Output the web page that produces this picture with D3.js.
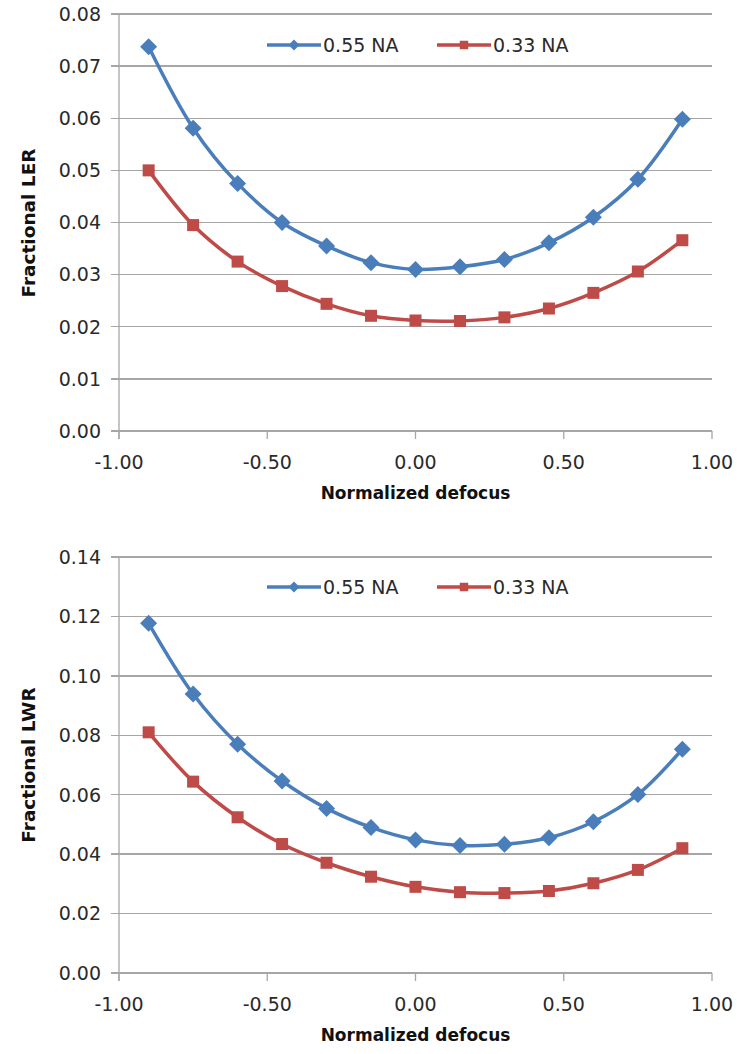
<!DOCTYPE html>
<html><head><meta charset="utf-8">
<script src="https://cdn.jsdelivr.net/npm/d3@7"></script>
<style>body{margin:0;background:#fff}svg{display:block}</style>
</head><body><svg id="c" width="737" height="1054"></svg>
<script>
// ---- data ----
const defocus = [-0.9,-0.75,-0.6,-0.45,-0.3,-0.15,0,0.15,0.3,0.45,0.6,0.75,0.9];
const xTicks = [-1,-0.5,0,0.5,1];
const seriesNames = ["0.55 NA","0.33 NA"];
const ler055 = [0.0737,0.0581,0.0475,0.0400,0.0355,0.0323,0.0310,0.0315,0.0329,0.0361,0.0410,0.0483,0.0598];
const ler033 = [0.0500,0.0395,0.0325,0.0278,0.0244,0.0221,0.0212,0.0211,0.0218,0.0235,0.0265,0.0306,0.0366];
const lwr055 = [0.1177,0.0939,0.0770,0.0646,0.0554,0.0490,0.0448,0.0429,0.0433,0.0455,0.0509,0.0601,0.0753];
const lwr033 = [0.0810,0.0644,0.0524,0.0434,0.0371,0.0324,0.0290,0.0272,0.0269,0.0276,0.0302,0.0347,0.0420];
const lerTicks = [0,0.01,0.02,0.03,0.04,0.05,0.06,0.07,0.08];
const lwrTicks = [0,0.02,0.04,0.06,0.08,0.10,0.12,0.14];
const yTitles = ["Fractional LER","Fractional LWR"];
const xTitle = "Normalized defocus";

// ---- styling / layout ----
const colors = ["#4A7EBB","#BE4B48"];
const gridColor = "#a6a6a6";
const font = "'DejaVu Sans', sans-serif";
const fmt = d => d3.format(".2f")(d).replace("\u2212","-");
const svg = d3.select("#c");
const x = d3.scaleLinear().domain([-1,1]).range([119,712]);

const panels = [
  {yTop:14, yBot:431, max:0.08, ticks:lerTicks, title:yTitles[0], series:[ler055,ler033], legendY:45, titleCY:223},
  {yTop:557, yBot:973, max:0.14, ticks:lwrTicks, title:yTitles[1], series:[lwr055,lwr033], legendY:587, titleCY:765}
];

function marker(g, i, cx, cy, big){
  if(i===0){
    const r = big?8.5:5.5;
    g.append("path").attr("d",`M${cx},${cy-r}L${cx+r},${cy}L${cx},${cy+r}L${cx-r},${cy}Z`).attr("fill",colors[0]);
  } else {
    const s = big?12:8.5;
    g.append("rect").attr("x",cx-s/2).attr("y",cy-s/2).attr("width",s).attr("height",s).attr("fill",colors[1]);
  }
}

panels.forEach(p=>{
  const y = d3.scaleLinear().domain([0,p.max]).range([p.yBot,p.yTop]);
  const g = svg.append("g");
  // gridlines
  g.append("g").selectAll("line").data(p.ticks).join("line")
    .attr("x1",x(-1)-8).attr("x2",x(1)).attr("y1",d=>y(d)).attr("y2",d=>y(d))
    .attr("stroke",gridColor).attr("stroke-width",1.3).attr("shape-rendering","crispEdges");
  // y axis line
  g.append("line").attr("x1",x(-1)).attr("x2",x(-1)).attr("y1",y(p.max)).attr("y2",y(0)+8)
    .attr("stroke",gridColor).attr("stroke-width",1.3);
  // x ticks
  g.append("g").selectAll("line").data(xTicks).join("line")
    .attr("x1",d=>x(d)).attr("x2",d=>x(d)).attr("y1",y(0)).attr("y2",y(0)+8)
    .attr("stroke",gridColor).attr("stroke-width",1.3);
  // y tick labels
  g.append("g").selectAll("text").data(p.ticks).join("text")
    .attr("x",101).attr("y",d=>y(d)).attr("dy","0.36em").attr("text-anchor","end")
    .attr("font-family",font).attr("font-size",19).attr("fill","#2a2a2a")
    .text(fmt);
  // x tick labels
  g.append("g").selectAll("text").data(xTicks).join("text")
    .attr("x",d=>x(d)).attr("y",y(0)+31).attr("dy","0.36em").attr("text-anchor","middle")
    .attr("font-family",font).attr("font-size",19).attr("fill","#2a2a2a")
    .text(fmt);
  // x title
  g.append("text").attr("x",x(0)).attr("y",y(0)+62).attr("dy","0.36em").attr("text-anchor","middle")
    .attr("font-family",font).attr("font-weight","bold").attr("font-size",17).attr("fill","#111")
    .text(xTitle);
  // y title
  g.append("text").attr("transform",`translate(28,${p.titleCY}) rotate(-90)`).attr("dy","0.36em")
    .attr("text-anchor","middle").attr("font-family",font).attr("font-weight","bold")
    .attr("font-size",18.5).attr("fill","#111").text(p.title);
  // series
  const line = d3.line().x((d,i)=>x(defocus[i])).y(d=>y(d)).curve(d3.curveCatmullRom.alpha(0.5));
  p.series.forEach((vals,si)=>{
    g.append("path").datum(vals).attr("d",line).attr("fill","none")
      .attr("stroke",colors[si]).attr("stroke-width",3.5);
    const mg = g.append("g");
    vals.forEach((v,i)=>marker(mg,si,x(defocus[i]),y(v),true));
  });
  // legend
  const lx = [267,437];
  seriesNames.forEach((n,si)=>{
    const lg = g.append("g");
    lg.append("line").attr("x1",lx[si]).attr("x2",lx[si]+54).attr("y1",p.legendY).attr("y2",p.legendY)
      .attr("stroke",colors[si]).attr("stroke-width",3.5);
    marker(lg,si,lx[si]+27,p.legendY,false);
    lg.append("text").attr("x",lx[si]+56).attr("y",p.legendY).attr("dy","0.36em")
      .attr("font-family",font).attr("font-size",19).attr("fill","#2a2a2a").text(n);
  });
});
</script></body></html>
